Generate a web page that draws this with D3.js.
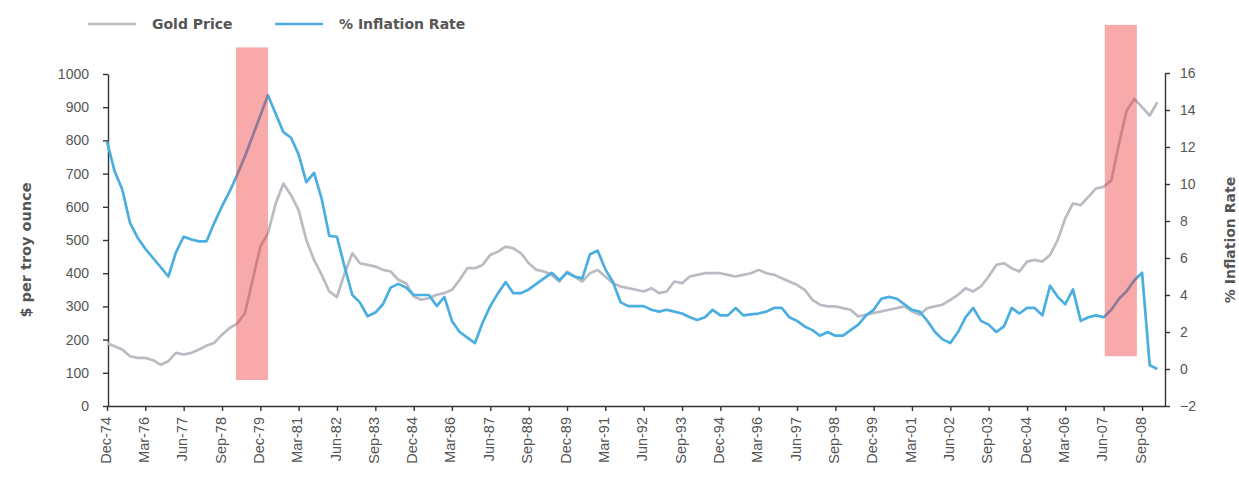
<!DOCTYPE html>
<html>
<head>
<meta charset="utf-8">
<script src="https://cdn.jsdelivr.net/npm/d3@7"></script>
<style>
  html, body { margin: 0; padding: 0; background: #fff; }
  svg { display: block; font-family: "DejaVu Sans", Verdana, sans-serif; }
  .tick text { fill: #555; font-size: 14px; }
  .axis path, .axis line { stroke: #333; stroke-width: 1.4; }
</style>
</head>
<body>
<svg id="chart" width="1239" height="486"></svg>
<script>
// Quarterly observations, Dec-74 through Mar-09
const startQuarter = "1974-12-01";

// Gold price, $ per troy ounce
const goldPrice = [
  189, 180, 170, 150, 145,
  145, 138, 124, 135, 160,
  155, 160, 170, 182, 190,
  215, 235, 248, 280, 380,
  480, 520, 610, 670, 635,
  590, 500, 440, 395, 345,
  328, 400, 460, 430, 425,
  420, 410, 405, 380, 370,
  330, 320, 325, 335, 340,
  350, 380, 415, 415, 425,
  455, 465, 480, 475, 460,
  430, 410, 405, 395, 375,
  405, 390, 375, 400, 410,
  390, 370, 360, 355, 350,
  345, 355, 340, 345, 375,
  370, 390, 395, 400, 400,
  400, 395, 390, 395, 400,
  410, 400, 395, 385, 375,
  365, 350, 320, 305, 300,
  300, 295, 290, 270, 275,
  280, 285, 290, 295, 300,
  285, 275, 295, 300, 305,
  320, 335, 355, 345, 360,
  390, 425, 430, 415, 405,
  435, 440, 435, 455, 500,
  565, 610, 605, 630, 655,
  660, 680, 790, 890, 925,
  900, 875, 915
];

// Inflation rate, % year on year
const inflationRate = [
  12.3, 10.7, 9.7, 7.9, 7.1,
  6.5, 6.0, 5.5, 5.0, 6.3,
  7.15, 7.0, 6.9, 6.9, 7.9,
  8.8, 9.6, 10.5, 11.5, 12.6,
  13.7, 14.8, 13.8, 12.8, 12.5,
  11.6, 10.1, 10.6, 9.2, 7.2,
  7.15, 5.5, 4.0, 3.6, 2.85,
  3.05, 3.5, 4.4, 4.6, 4.4,
  4.0, 4.0, 4.0, 3.4, 3.9,
  2.6, 2.0, 1.7, 1.4, 2.5,
  3.4, 4.1, 4.7, 4.1, 4.1,
  4.3, 4.6, 4.9, 5.2, 4.8,
  5.2, 5.0, 4.9, 6.2, 6.4,
  5.4, 4.7, 3.6, 3.4, 3.4,
  3.4, 3.2, 3.1, 3.2, 3.1,
  3.0, 2.8, 2.65, 2.8, 3.2,
  2.9, 2.9, 3.3, 2.9, 2.95,
  3.0, 3.1, 3.3, 3.3, 2.8,
  2.6, 2.3, 2.1, 1.8, 2.0,
  1.8, 1.8, 2.1, 2.4, 2.9,
  3.2, 3.8, 3.9, 3.8, 3.5,
  3.2, 3.1, 2.6, 2.0, 1.6,
  1.4, 2.0, 2.8, 3.3, 2.6,
  2.4, 2.0, 2.3, 3.3, 3.0,
  3.3, 3.3, 2.9, 4.5, 3.9,
  3.5, 4.3, 2.6, 2.8, 2.9,
  2.8, 3.2, 3.8, 4.2, 4.8,
  5.2, 0.2, 0.0
];

// Category labels on the time axis
const tickLabels = [
  "Dec-74", "Mar-76", "Jun-77", "Sep-78", "Dec-79", "Mar-81", "Jun-82",
  "Sep-83", "Dec-84", "Mar-86", "Jun-87", "Sep-88", "Dec-89", "Mar-91",
  "Jun-92", "Sep-93", "Dec-94", "Mar-96", "Jun-97", "Sep-98", "Dec-99",
  "Mar-01", "Jun-02", "Sep-03", "Dec-04", "Mar-06", "Jun-07", "Sep-08"
];
const goldTicks = [0, 100, 200, 300, 400, 500, 600, 700, 800, 900, 1000];
const inflationTicks = [-2, 0, 2, 4, 6, 8, 10, 12, 14, 16];

// Highlighted periods (dates, and vertical extent in $ per troy ounce)
const highlightStart = ["1979-02-15", "2007-06-15"];
const highlightEnd = ["1980-03-01", "2008-07-01"];
const highlightTop = [1080, 1148];
const highlightBottom = [78, 150];

const parseDay = d3.timeParse("%Y-%m-%d");
const parseLabel = d3.timeParse("%b-%y");
const t0 = parseDay(startQuarter);
const dates = goldPrice.map((_, i) => d3.timeMonth.offset(t0, 3 * i));

const svg = d3.select("#chart");

const x = d3.scaleTime()
  .domain([t0, parseDay("2009-06-01")])
  .range([107, 1165]);
const yGold = d3.scaleLinear().domain([0, 1000]).range([406, 74]);
const yInfl = d3.scaleLinear().domain([-2, 16]).range([406, 73]);

// Axes
svg.append("g")
  .attr("class", "axis")
  .attr("transform", "translate(108,0)")
  .call(d3.axisLeft(yGold).tickValues(goldTicks).tickFormat(d3.format("d"))
    .tickSize(5).tickPadding(14).tickSizeOuter(0));

svg.append("g")
  .attr("class", "axis")
  .attr("transform", "translate(1165,0)")
  .call(d3.axisRight(yInfl).tickValues(inflationTicks).tickSize(5).tickPadding(10).tickSizeOuter(0));

const xAxis = svg.append("g")
  .attr("class", "axis")
  .attr("transform", "translate(0,406)")
  .call(d3.axisBottom(x)
    .tickValues(tickLabels.map(parseLabel))
    .tickFormat(d3.timeFormat("%b-%y"))
    .tickSize(5)
    .tickSizeOuter(0));
xAxis.selectAll(".tick text")
  .attr("transform", "rotate(-90)")
  .attr("text-anchor", "end")
  .attr("x", -11)
  .attr("y", -2)
  .attr("dy", "0.35em")
  .style("font-size", "14.5px");

// Series lines
const goldLine = d3.line()
  .x((d, i) => x(dates[i]))
  .y(d => yGold(d));
const inflLine = d3.line()
  .x((d, i) => x(dates[i]))
  .y(d => yInfl(d));

svg.append("path")
  .datum(goldPrice)
  .attr("fill", "none")
  .attr("stroke", "#b9bcc3")
  .attr("stroke-width", 2.7)
  .attr("stroke-linejoin", "round")
  .attr("d", goldLine);

svg.append("path")
  .datum(inflationRate)
  .attr("fill", "none")
  .attr("stroke", "#4aaee0")
  .attr("stroke-width", 2.7)
  .attr("stroke-linejoin", "round")
  .attr("d", inflLine);

// Highlight bands drawn over the lines
svg.append("g")
  .selectAll("rect")
  .data(highlightStart)
  .join("rect")
  .attr("x", (d, i) => x(parseDay(d)))
  .attr("width", (d, i) => x(parseDay(highlightEnd[i])) - x(parseDay(d)))
  .attr("y", (d, i) => yGold(highlightTop[i]))
  .attr("height", (d, i) => yGold(highlightBottom[i]) - yGold(highlightTop[i]))
  .attr("fill", "#ee3333")
  .attr("fill-opacity", 0.42);

// Axis titles
svg.append("text")
  .attr("transform", "translate(31,250) rotate(-90)")
  .attr("text-anchor", "middle")
  .attr("fill", "#555")
  .attr("font-size", 14.5)
  .attr("font-weight", "bold")
  .text("$ per troy ounce");

svg.append("text")
  .attr("transform", "translate(1235,240) rotate(-90)")
  .attr("text-anchor", "middle")
  .attr("fill", "#555")
  .attr("font-size", 14)
  .attr("font-weight", "bold")
  .text("% Inflation Rate");

// Legend
const legend = [
  { name: "Gold Price", color: "#b9bcc3", x: 88 },
  { name: "% Inflation Rate", color: "#4aaee0", x: 275 }
];
const lg = svg.append("g").selectAll("g").data(legend).join("g")
  .attr("transform", d => `translate(${d.x},24)`);
lg.append("line")
  .attr("x1", 0).attr("x2", 48)
  .attr("stroke", d => d.color)
  .attr("stroke-width", 2.7);
lg.append("text")
  .attr("x", 64)
  .attr("dy", "0.35em")
  .attr("fill", "#555")
  .attr("font-size", 14)
  .attr("font-weight", "bold")
  .text(d => d.name);
</script>
</body>
</html>
